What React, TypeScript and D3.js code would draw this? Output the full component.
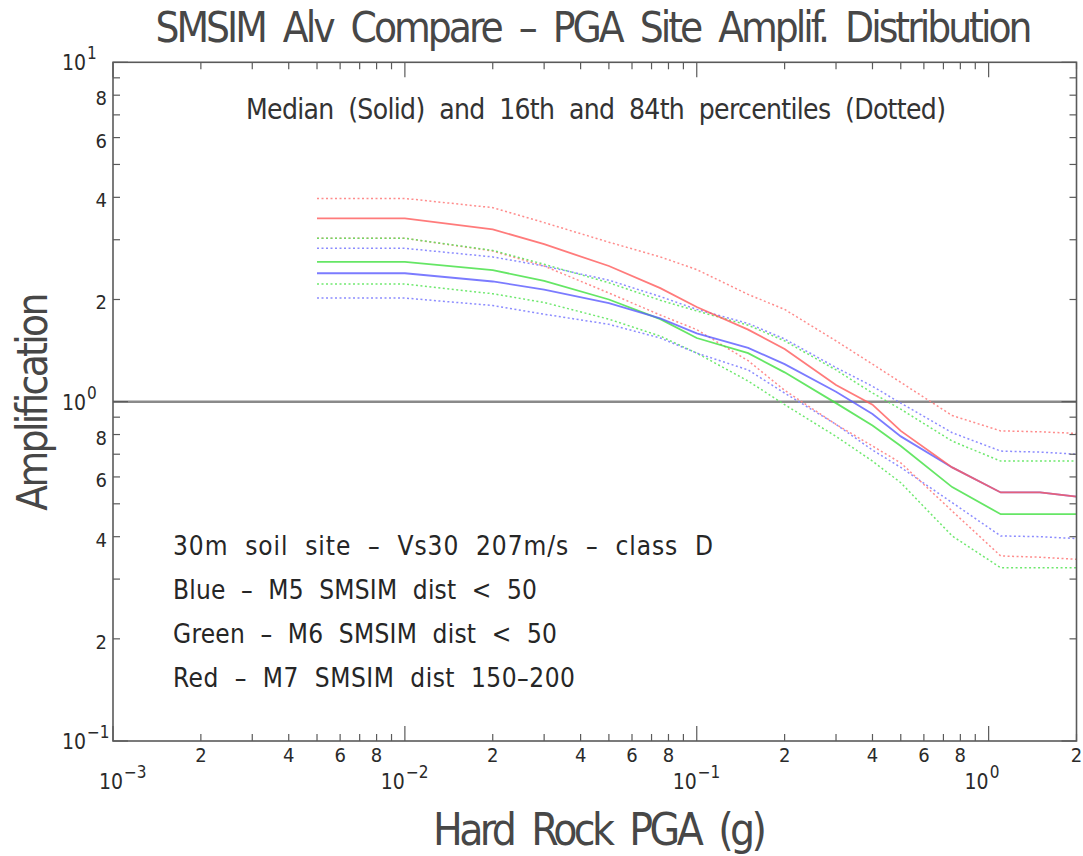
import React from 'react';
import * as d3 from 'd3';

// hard rock PGA (g) at which the amplification was computed
const pga = [0.005, 0.01, 0.02, 0.03, 0.05, 0.075, 0.1, 0.15, 0.2, 0.3, 0.4, 0.5, 0.75, 1.1, 1.5, 2.0];

// M5 SMSIM dist < 50 (blue)
const blueMedian = [2.39, 2.39, 2.26, 2.14, 1.95, 1.76, 1.59, 1.44, 1.29, 1.07, 0.92, 0.79, 0.64, 0.54, 0.54, 0.525];
const blue84 = [2.83, 2.83, 2.67, 2.51, 2.28, 2.04, 1.87, 1.7, 1.53, 1.26, 1.11, 0.99, 0.81, 0.715, 0.71, 0.7];
const blue16 = [2.02, 2.02, 1.92, 1.81, 1.69, 1.54, 1.39, 1.24, 1.06, 0.857, 0.72, 0.64, 0.504, 0.402, 0.4, 0.395];

// M6 SMSIM dist < 50 (green)
const greenMedian = [2.58, 2.58, 2.44, 2.27, 2.0, 1.75, 1.54, 1.39, 1.22, 0.99, 0.85, 0.74, 0.56, 0.466, 0.466, 0.466];
const green84 = [3.03, 3.03, 2.79, 2.54, 2.24, 1.99, 1.85, 1.68, 1.51, 1.24, 1.06, 0.95, 0.765, 0.668, 0.668, 0.668];
const green16 = [2.22, 2.22, 2.08, 1.96, 1.75, 1.56, 1.39, 1.15, 0.98, 0.79, 0.668, 0.577, 0.402, 0.324, 0.324, 0.324];

// M7 SMSIM dist 150-200 (red)
const redMedian = [3.47, 3.47, 3.22, 2.91, 2.51, 2.16, 1.9, 1.63, 1.43, 1.12, 0.98, 0.82, 0.64, 0.54, 0.54, 0.525];
const red84 = [3.97, 3.97, 3.73, 3.37, 2.95, 2.67, 2.45, 2.07, 1.87, 1.51, 1.29, 1.14, 0.91, 0.82, 0.815, 0.806];
const red16 = [3.03, 3.03, 2.78, 2.51, 2.09, 1.8, 1.63, 1.32, 1.08, 0.857, 0.74, 0.66, 0.476, 0.351, 0.348, 0.343];

const legendLines = [
  '30m  soil  site  \u2013  Vs30  207m/s  \u2013  class  D',
  'Blue  \u2013  M5  SMSIM  dist  <  50',
  'Green  \u2013  M6  SMSIM  dist  <  50',
  'Red  \u2013  M7  SMSIM  dist  150\u2013200',
];
const legendWidths = [540, 364, 384, 402];

const series = [
  { values: green16, color: '#5ee65e', dotted: true },
  { values: blue16, color: '#8080ff', dotted: true },
  { values: red16, color: '#ff8080', dotted: true },
  { values: green84, color: '#5ee65e', dotted: true },
  { values: blue84, color: '#8080ff', dotted: true },
  { values: red84, color: '#ff8080', dotted: true },
  { values: greenMedian, color: '#3ee03e', dotted: false },
  { values: blueMedian, color: '#5a5aff', dotted: false },
  { values: redMedian, color: '#ff5a5a', dotted: false },
];

const W = 1083;
const H = 856;
const margin = { top: 62.3, right: 6.5, bottom: 115, left: 113 };
const font = "'DejaVu Sans Condensed', 'Liberation Sans Narrow', 'Liberation Sans', sans-serif";
const pre = { whiteSpace: 'pre' as const };

const App = () => {
  const x = d3.scaleLog().domain([0.001, 2]).range([margin.left, W - margin.right]);
  const y = d3.scaleLog().domain([0.1, 10]).range([H - margin.bottom, margin.top]);
  const line = d3
    .line<number>()
    .x((_, i) => x(pga[i]))
    .y((d) => y(d));

  const isMajor = (t: number) => Math.abs(Math.log10(t) - Math.round(Math.log10(t))) < 1e-9;
  const mantissa = (t: number) => Math.round(t / Math.pow(10, Math.floor(Math.log10(t) + 1e-9)));

  const xTicks = x.ticks();
  const yTicks = y.ticks();
  const [x0, x1] = x.range();
  const [y0, y1] = y.range();
  const axisColor = '#5a5a5a';
  const textColor = '#2a2a2a';

  return (
    <div style={{ position: 'absolute', left: 0, top: 0, background: '#fff' }}>
      <svg width={W} height={H} style={{ display: 'block' }} fontFamily={font}>
        <rect width={W} height={H} fill="#fff" />

        {/* reference line at amplification 1 */}
        <line x1={x0} x2={x1} y1={y(1)} y2={y(1)} stroke="#8a8a8a" strokeWidth={2.5} />

        {series.map((s, i) => (
          <path
            key={i}
            d={line(s.values) || ''}
            fill="none"
            stroke={s.color}
            strokeWidth={s.dotted ? 1.5 : 1.8}
            strokeDasharray={s.dotted ? '2 2.5' : undefined}
            strokeOpacity={s.dotted ? 0.9 : 0.8}
          />
        ))}

        {/* frame */}
        <rect x={x0} y={y1} width={x1 - x0} height={y0 - y1} fill="none" stroke={axisColor} strokeWidth={1.6} />

        {/* x ticks, bottom and top */}
        {xTicks.map((t) => {
          const len = isMajor(t) ? 15 : 7;
          const px = x(t);
          return (
            <g key={`xt${t}`} stroke={axisColor} strokeWidth={1.2}>
              <line x1={px} x2={px} y1={y0} y2={y0 - len} />
              <line x1={px} x2={px} y1={y1} y2={y1 + len} />
            </g>
          );
        })}
        {/* y ticks, left and right */}
        {yTicks.map((t) => {
          const len = isMajor(t) ? 15 : 7;
          const py = y(t);
          return (
            <g key={`yt${t}`} stroke={axisColor} strokeWidth={1.2}>
              <line x1={x0} x2={x0 + len} y1={py} y2={py} />
              <line x1={x1} x2={x1 - len} y1={py} y2={py} />
            </g>
          );
        })}

        {/* x tick labels */}
        {xTicks.map((t, i) => {
          const px = x(t);
          if (isMajor(t)) {
            const exp = Math.round(Math.log10(t));
            const lx = px + (i === 0 ? 10 : 0);
            return (
              <g key={`xl${t}`}>
                <text x={lx} y={789} textAnchor="end" fontSize={21} fill={textColor}>
                  10
                </text>
                <text x={lx + 1} y={778} textAnchor="start" fontSize={17} fill={textColor}>
                  {exp === 0 ? '0' : `\u2212${-exp}`}
                </text>
              </g>
            );
          }
          const m = mantissa(t);
          if (m % 2 !== 0) return null;
          return (
            <text key={`xl${t}`} x={px} y={762} textAnchor="middle" fontSize={20} fill={textColor}>
              {m}
            </text>
          );
        })}

        {/* y tick labels */}
        {yTicks.map((t) => {
          const py = y(t);
          if (isMajor(t)) {
            const exp = Math.round(Math.log10(t));
            return (
              <g key={`yl${t}`}>
                <text x={86} y={py + 8} textAnchor="end" fontSize={21} fill={textColor}>
                  10
                </text>
                <text x={87} y={py - 3} textAnchor="start" fontSize={17} fill={textColor}>
                  {exp < 0 ? `\u2212${-exp}` : `${exp}`}
                </text>
              </g>
            );
          }
          const m = mantissa(t);
          if (m % 2 !== 0) return null;
          return (
            <text key={`yl${t}`} x={107} y={py + 10} textAnchor="end" fontSize={20} fill={textColor}>
              {m}
            </text>
          );
        })}

        {/* titles */}
        <text x={594} y={42} textAnchor="middle" fontSize={42} fill="#474747" textLength={877} lengthAdjust="spacing" style={pre}>
          {'SMSIM  Alv  Compare  \u2013  PGA  Site  Amplif.  Distribution'}
        </text>
        <text x={596} y={119} textAnchor="middle" fontSize={28} fill="#333" textLength={700} lengthAdjust="spacing" style={pre}>
          {'Median  (Solid)  and  16th  and  84th  percentiles  (Dotted)'}
        </text>
        <text x={600} y={845} textAnchor="middle" fontSize={44} fill="#474747" textLength={334} lengthAdjust="spacing" style={pre}>
          {'Hard  Rock  PGA  (g)'}
        </text>
        <text
          transform={`translate(47, ${y(1)}) rotate(-90)`}
          textAnchor="middle"
          fontSize={42}
          fill="#474747"
          textLength={218}
          lengthAdjust="spacing"
        >
          Amplification
        </text>

        {/* notes */}
        {legendLines.map((s, i) => (
          <text
            key={s}
            x={173}
            y={555 + i * 44}
            fontSize={26}
            fill="#262626"
            textLength={legendWidths[i]}
            lengthAdjust="spacing"
            style={pre}
          >
            {s}
          </text>
        ))}
      </svg>
    </div>
  );
};

export default App;
